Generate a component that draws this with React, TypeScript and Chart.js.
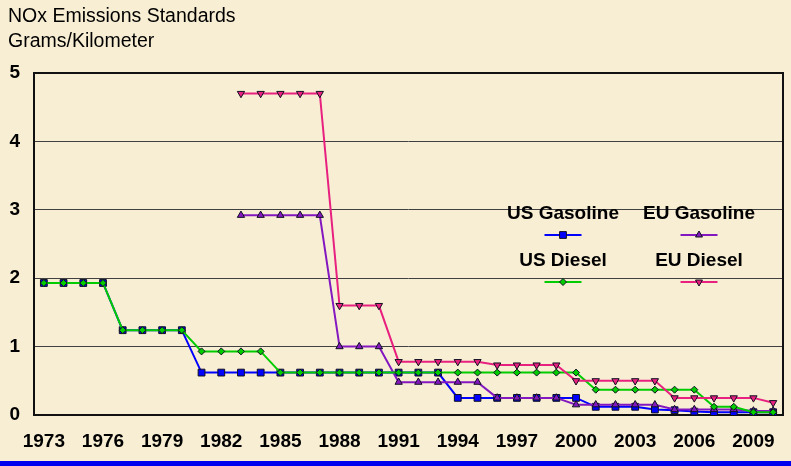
import React, { useEffect, useRef } from 'react';
import { Chart, registerables } from 'chart.js';

Chart.register(...registerables);

const years = [
  '1973', '1974', '1975', '1976', '1977', '1978', '1979', '1980', '1981', '1982',
  '1983', '1984', '1985', '1986', '1987', '1988', '1989', '1990', '1991', '1992',
  '1993', '1994', '1995', '1996', '1997', '1998', '1999', '2000', '2001', '2002',
  '2003', '2004', '2005', '2006', '2007', '2008', '2009', '2010',
];

const usGasoline = [
  1.93, 1.93, 1.93, 1.93, 1.24, 1.24, 1.24, 1.24, 0.62, 0.62,
  0.62, 0.62, 0.62, 0.62, 0.62, 0.62, 0.62, 0.62, 0.62, 0.62,
  0.62, 0.25, 0.25, 0.25, 0.25, 0.25, 0.25, 0.25, 0.12, 0.12,
  0.12, 0.08, 0.07, 0.05, 0.04, 0.04, 0.04, 0.04,
];

const euGasoline = [
  null, null, null, null, null, null, null, null, null, null,
  2.92, 2.92, 2.92, 2.92, 2.92, 1.0, 1.0, 1.0, 0.48, 0.48,
  0.48, 0.48, 0.48, 0.25, 0.25, 0.25, 0.25, 0.15, 0.15, 0.15,
  0.15, 0.15, 0.08, 0.08, 0.08, 0.08, 0.06, 0.06,
];

const usDiesel = [
  1.93, 1.93, 1.93, 1.93, 1.24, 1.24, 1.24, 1.24, 0.93, 0.93,
  0.93, 0.93, 0.62, 0.62, 0.62, 0.62, 0.62, 0.62, 0.62, 0.62,
  0.62, 0.62, 0.62, 0.62, 0.62, 0.62, 0.62, 0.62, 0.37, 0.37,
  0.37, 0.37, 0.37, 0.37, 0.12, 0.12, 0.04, 0.04,
];

const euDiesel = [
  null, null, null, null, null, null, null, null, null, null,
  4.7, 4.7, 4.7, 4.7, 4.7, 1.6, 1.6, 1.6, 0.78, 0.78,
  0.78, 0.78, 0.78, 0.73, 0.73, 0.73, 0.73, 0.5, 0.5, 0.5,
  0.5, 0.5, 0.25, 0.25, 0.25, 0.25, 0.25, 0.18,
];

const yTicks = [0, 1, 2, 3, 4, 5];
const titleLines = ['NOx Emissions Standards', 'Grams/Kilometer'];
const seriesNames = ['US Gasoline', 'EU Gasoline', 'US Diesel', 'EU Diesel'];

const FONT = '"Liberation Sans", Arial, Helvetica, sans-serif';
const BLUE = '#0000ff';
const PURPLE = '#8418c0';
const GREEN = '#00cc00';
const PINK = '#e8207f';
const MARKER_BORDER = '#111122';

type MarkerKind = 'square' | 'triangle' | 'diamond' | 'invTriangle';

const seriesStyle: { color: string; marker: MarkerKind }[] = [
  { color: BLUE, marker: 'square' },
  { color: PURPLE, marker: 'triangle' },
  { color: GREEN, marker: 'diamond' },
  { color: PINK, marker: 'invTriangle' },
];

function drawMarker(ctx: CanvasRenderingContext2D, kind: MarkerKind, x: number, y: number, color: string) {
  ctx.beginPath();
  if (kind === 'square') {
    const s = 3.4;
    ctx.rect(x - s, y - s, 2 * s, 2 * s);
  } else if (kind === 'triangle') {
    const r = 4;
    ctx.moveTo(x, y - r);
    ctx.lineTo(x + r * 0.866, y + r * 0.5);
    ctx.lineTo(x - r * 0.866, y + r * 0.5);
    ctx.closePath();
  } else if (kind === 'invTriangle') {
    const r = 4;
    ctx.moveTo(x, y + r);
    ctx.lineTo(x + r * 0.866, y - r * 0.5);
    ctx.lineTo(x - r * 0.866, y - r * 0.5);
    ctx.closePath();
  } else {
    const r = 3.5;
    ctx.moveTo(x, y - r);
    ctx.lineTo(x + r, y);
    ctx.lineTo(x, y + r);
    ctx.lineTo(x - r, y);
    ctx.closePath();
  }
  ctx.fillStyle = color;
  ctx.fill();
  ctx.lineWidth = 1;
  ctx.strokeStyle = MARKER_BORDER;
  ctx.stroke();
}

const backgroundPlugin = {
  id: 'parchment',
  beforeDraw(chart: any) {
    const { ctx, width, height } = chart;
    ctx.save();
    ctx.fillStyle = '#f8eed3';
    ctx.fillRect(0, 0, width, height);
    ctx.restore();
  },
  afterDraw(chart: any) {
    const { ctx, width, height } = chart;
    ctx.save();
    ctx.fillStyle = '#0000ee';
    ctx.fillRect(0, height - 5, width, 5);
    ctx.restore();
  },
};

const framePlugin = {
  id: 'frame',
  beforeDatasetsDraw(chart: any) {
    const { ctx, chartArea } = chart;
    ctx.save();
    ctx.strokeStyle = '#111111';
    ctx.lineWidth = 2;
    ctx.strokeRect(chartArea.left, chartArea.top, chartArea.right - chartArea.left, chartArea.bottom - chartArea.top);
    ctx.restore();
  },
};

const textPlugin = {
  id: 'titleAndLegend',
  afterDatasetsDraw(chart: any) {
    const ctx: CanvasRenderingContext2D = chart.ctx;
    ctx.save();
    // title
    ctx.fillStyle = '#000';
    ctx.font = `19.5px ${FONT}`;
    ctx.textAlign = 'left';
    ctx.textBaseline = 'alphabetic';
    titleLines.forEach((line, i) => ctx.fillText(line, 8, 22 + i * 25));

    // legend, two columns, text above sample
    const colX = [563, 699];
    const rowTextY = [218.5, 266];
    const rowLineY = [235, 282];
    ctx.font = `bold 19px ${FONT}`;
    ctx.textAlign = 'center';
    seriesNames.forEach((name, i) => {
      const col = i % 2;
      const row = Math.floor(i / 2);
      const cx = colX[col];
      ctx.fillStyle = '#000';
      ctx.fillText(name, cx, rowTextY[row]);
      const st = seriesStyle[i];
      ctx.beginPath();
      ctx.strokeStyle = st.color;
      ctx.lineWidth = 2;
      ctx.moveTo(cx - 18.5, rowLineY[row]);
      ctx.lineTo(cx + 18.5, rowLineY[row]);
      ctx.stroke();
      drawMarker(ctx, st.marker, cx, rowLineY[row], st.color);
    });
    ctx.restore();
  },
};

export default function App() {
  const canvasRef = useRef<HTMLCanvasElement | null>(null);

  useEffect(() => {
    const canvas = canvasRef.current;
    if (!canvas) return;
    const mk = (i: number, data: (number | null)[], order: number, pointStyle: string, radius: number, rotation = 0) => ({
      label: seriesNames[i],
      data,
      borderColor: seriesStyle[i].color,
      backgroundColor: seriesStyle[i].color,
      borderWidth: 2,
      pointStyle,
      pointRadius: radius,
      pointHoverRadius: radius,
      pointRotation: rotation,
      pointBackgroundColor: seriesStyle[i].color,
      pointBorderColor: MARKER_BORDER,
      pointBorderWidth: 1,
      tension: 0,
      spanGaps: false,
      fill: false,
      order,
    });

    const chart = new Chart(canvas, {
      type: 'line',
      data: {
        labels: years,
        datasets: [
          mk(0, usGasoline, 4, 'rect', 4.8),
          mk(1, euGasoline, 3, 'triangle', 4.2),
          mk(2, usDiesel, 2, 'rectRot', 3.5),
          mk(3, euDiesel, 1, 'triangle', 4.2, 180),
        ],
      },
      options: {
        responsive: false,
        animation: false,
        devicePixelRatio: 1,
        layout: { padding: { top: 73, right: 8, bottom: 0, left: 0 } },
        plugins: {
          legend: { display: false },
          title: { display: false },
          tooltip: { enabled: false },
        },
        scales: {
          x: {
            type: 'category',
            offset: true,
            grid: { display: false, drawTicks: false },
            border: { display: false },
            ticks: {
              autoSkip: false,
              maxRotation: 0,
              minRotation: 0,
              padding: 15,
              color: '#000',
              font: { family: FONT, size: 19, weight: 'bold' },
              callback: (_v: any, i: number) => (i % 3 === 0 ? years[i] : ''),
            },
            afterFit: (s: any) => {
              s.height = 51;
            },
          },
          y: {
            min: 0,
            max: 5,
            afterBuildTicks: (s: any) => {
              s.ticks = yTicks.map((v) => ({ value: v }));
            },
            grid: { color: '#404040', lineWidth: 1, drawTicks: false },
            border: { display: false },
            ticks: {
              padding: 14,
              color: '#000',
              font: { family: FONT, size: 19, weight: 'bold' },
            },
            afterFit: (s: any) => {
              s.width = 34;
            },
          },
        },
      },
      plugins: [backgroundPlugin, framePlugin, textPlugin],
    } as any);

    return () => chart.destroy();
  }, []);

  return (
    <div style={{ position: 'fixed', left: 0, top: 0, width: 791, height: 466 }}>
      <canvas ref={canvasRef} width={791} height={466} style={{ display: 'block', width: 791, height: 466 }} />
    </div>
  );
}
